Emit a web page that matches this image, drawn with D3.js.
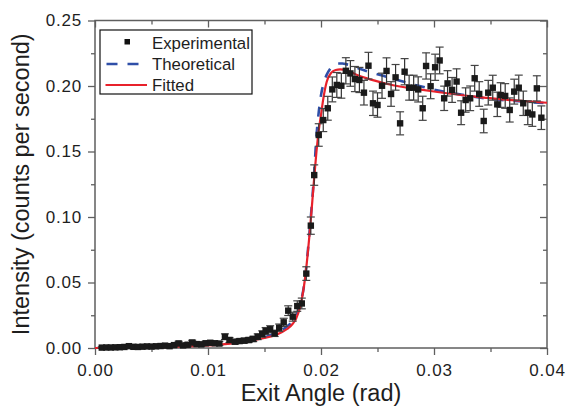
<!DOCTYPE html>
<html>
<head>
<meta charset="utf-8">
<script src="https://cdn.jsdelivr.net/npm/d3@7"></script>
<style>
body { margin: 0; background: #fff; }
svg { display: block; font-family: "Liberation Sans", Arial, Helvetica, sans-serif; }
</style>
</head>
<body>
<svg id="svg0"></svg>
<script>
// experimental points (exit angle, intensity, error)
const expX = [0.0006, 0.0010, 0.0014, 0.0018, 0.0022, 0.0026, 0.0030, 0.0034, 0.0038, 0.0042,
              0.0046, 0.0050, 0.0054, 0.0058, 0.0062, 0.0066, 0.0070, 0.0074, 0.0078, 0.0082,
              0.0086, 0.0090, 0.0094, 0.0098, 0.0102, 0.0106, 0.0110, 0.0115, 0.0119, 0.0124,
              0.0128, 0.0132, 0.0136, 0.0140, 0.0144, 0.0148, 0.0151, 0.0155, 0.0159, 0.0163,
              0.0167, 0.0171, 0.0175, 0.0179, 0.0183, 0.0187, 0.0191, 0.0194, 0.0198, 0.0202,
              0.0206, 0.0210, 0.0214, 0.0218, 0.0222, 0.0226, 0.0230, 0.0234, 0.0238, 0.0242,
              0.0246, 0.0250, 0.0254, 0.0258, 0.0262, 0.0266, 0.0270, 0.0274, 0.0278, 0.0282,
              0.0286, 0.0290, 0.0293, 0.0297, 0.0301, 0.0305, 0.0309, 0.0312, 0.0316, 0.0320,
              0.0324, 0.0328, 0.0332, 0.0336, 0.0340, 0.0344, 0.0348, 0.0352, 0.0356, 0.0359,
              0.0363, 0.0367, 0.0371, 0.0375, 0.0379, 0.0383, 0.0387, 0.0391, 0.0395];
const expY = [0.0003, 0.0004, 0.0004, 0.0005, 0.0006, 0.0008, 0.0014, 0.0009, 0.0008, 0.0010,
              0.0012, 0.0011, 0.0013, 0.0015, 0.0018, 0.0014, 0.0022, 0.0035, 0.0020, 0.0025,
              0.0042, 0.0030, 0.0028, 0.0036, 0.0040, 0.0036, 0.0034, 0.0086, 0.0061, 0.0048,
              0.0053, 0.0056, 0.0061, 0.0069, 0.0086, 0.0107, 0.0130, 0.0143, 0.0112, 0.0155,
              0.0196, 0.0285, 0.0239, 0.0320, 0.0340, 0.0568, 0.0934, 0.1320, 0.1626, 0.1740,
              0.1830, 0.1974, 0.2008, 0.2002, 0.2116, 0.2096, 0.2053, 0.2046, 0.1949, 0.2155,
              0.1868, 0.1855, 0.2002, 0.2115, 0.1939, 0.2066, 0.1715, 0.2109, 0.1987, 0.1987,
              0.1974, 0.1830, 0.2153, 0.1998, 0.2143, 0.2195, 0.1906, 0.2020, 0.1970, 0.2034,
              0.1796, 0.1893, 0.1906, 0.2059, 0.1939, 0.1733, 0.1949, 0.1987, 0.1860, 0.1931,
              0.1924, 0.1817, 0.1957, 0.1987, 0.1868, 0.1796, 0.1783, 0.1982, 0.1758];
const expErr = [0.0006, 0.0006, 0.0006, 0.0007, 0.0007, 0.0008, 0.0010, 0.0008, 0.0008, 0.0009,
                0.0010, 0.0009, 0.0010, 0.0011, 0.0012, 0.0011, 0.0013, 0.0016, 0.0012, 0.0014,
                0.0017, 0.0014, 0.0014, 0.0016, 0.0016, 0.0016, 0.0015, 0.0022, 0.0019, 0.0017,
                0.0018, 0.0018, 0.0019, 0.0020, 0.0022, 0.0024, 0.0026, 0.0027, 0.0024, 0.0028,
                0.0031, 0.0037, 0.0034, 0.0040, 0.0041, 0.0052, 0.0066, 0.0078, 0.0086, 0.0088,
                0.0091, 0.0095, 0.0095, 0.0095, 0.0100, 0.0098, 0.0096, 0.0096, 0.0094, 0.0102,
                0.0093, 0.0093, 0.0096, 0.0100, 0.0094, 0.0098, 0.0088, 0.0100, 0.0095, 0.0095,
                0.0096, 0.0092, 0.0100, 0.0095, 0.0100, 0.0102, 0.0093, 0.0097, 0.0095, 0.0097,
                0.0091, 0.0093, 0.0094, 0.0098, 0.0094, 0.0090, 0.0094, 0.0095, 0.0093, 0.0094,
                0.0094, 0.0092, 0.0095, 0.0096, 0.0093, 0.0091, 0.0091, 0.0096, 0.0090];

// theoretical curve
const theoX = [0.0150, 0.0160, 0.0170, 0.0175, 0.0180, 0.0186, 0.0190, 0.0194, 0.0196, 0.0198,
               0.0200, 0.0202, 0.0205, 0.0208, 0.0211, 0.0215, 0.0219, 0.0223, 0.0230, 0.0240,
               0.0250, 0.0260, 0.0270, 0.0280, 0.0290, 0.0300, 0.0310, 0.0320, 0.0340, 0.0360,
               0.0380, 0.0400];
const theoY = [0.0080, 0.0115, 0.0165, 0.0205, 0.0290, 0.0540, 0.0900, 0.1340, 0.1620, 0.1800,
               0.1930, 0.2010, 0.2085, 0.2130, 0.2158, 0.2172, 0.2172, 0.2165, 0.2145, 0.2115,
               0.2090, 0.2065, 0.2040, 0.2015, 0.1995, 0.1972, 0.1955, 0.1940, 0.1912, 0.1893,
               0.1880, 0.1868];

// fitted curve
const fitX = [0.0000, 0.0020, 0.0040, 0.0060, 0.0080, 0.0100, 0.0110, 0.0120, 0.0130, 0.0140,
              0.0150, 0.0160, 0.0170, 0.0175, 0.0178, 0.0182, 0.0186, 0.0190, 0.0194, 0.0196,
              0.0198, 0.0200, 0.0202, 0.0205, 0.0209, 0.0213, 0.0217, 0.0222, 0.0232, 0.0240,
              0.0250, 0.0260, 0.0280, 0.0290, 0.0300, 0.0320, 0.0346, 0.0360, 0.0380, 0.0400];
const fitY = [0.0000, 0.0001, 0.0003, 0.0007, 0.0012, 0.0020, 0.0026, 0.0034, 0.0044, 0.0058,
              0.0076, 0.0100, 0.0145, 0.0185, 0.0225, 0.0330, 0.0540, 0.0880, 0.1300, 0.1500,
              0.1660, 0.1780, 0.1900, 0.2030, 0.2100, 0.2122, 0.2127, 0.2122, 0.2084, 0.2060,
              0.2035, 0.2013, 0.1982, 0.1970, 0.1958, 0.1935, 0.1910, 0.1898, 0.1884, 0.1872];

const xTicks = [0.00, 0.01, 0.02, 0.03, 0.04];
const xMinor = [0.005, 0.015, 0.025, 0.035];
const yTicks = [0.00, 0.05, 0.10, 0.15, 0.20, 0.25];
const yMinor = [0.025, 0.075, 0.125, 0.175, 0.225];

const legendItems = ['Experimental', 'Theoretical', 'Fitted'];

let totalW = 565, totalH = 409;
let margin = {top: 20.5, right: 18, bottom: 61, left: 95};
let width = totalW - margin.left - margin.right;
let height = totalH - margin.top - margin.bottom;

let svg = d3.select('#svg0').attr('width', totalW).attr('height', totalH);
let g = svg.append('g').attr('transform', 'translate(' + margin.left + ',' + margin.top + ')');

let xScale = d3.scaleLinear().domain([0, 0.04]).range([0, width]);
let yScale = d3.scaleLinear().domain([0, 0.25]).range([height, 0]);

let axisColor = '#5f5f5f';
let textColor = '#1e1e1e';

// axes: bottom + left point outward, top + right point inward
let bottom = g.append('g').attr('transform', 'translate(0,' + height + ')')
    .call(d3.axisBottom(xScale).tickValues(xTicks).tickSize(7).tickPadding(9).tickFormat(d3.format('.2f')));
g.append('g').attr('transform', 'translate(0,' + height + ')')
    .call(d3.axisBottom(xScale).tickValues(xMinor).tickSize(4).tickFormat(''));
let left = g.append('g')
    .call(d3.axisLeft(yScale).tickValues(yTicks).tickSize(7).tickPadding(6).tickFormat(d3.format('.2f')));
g.append('g').call(d3.axisLeft(yScale).tickValues(yMinor).tickSize(4).tickFormat(''));
g.append('g').call(d3.axisBottom(xScale).tickValues(xTicks).tickSize(7).tickFormat(''));
g.append('g').call(d3.axisBottom(xScale).tickValues(xMinor).tickSize(4).tickFormat(''));
g.append('g').attr('transform', 'translate(' + width + ',0)')
    .call(d3.axisLeft(yScale).tickValues(yTicks).tickSize(7).tickFormat(''));
g.append('g').attr('transform', 'translate(' + width + ',0)')
    .call(d3.axisLeft(yScale).tickValues(yMinor).tickSize(4).tickFormat(''));

g.selectAll('.domain').remove();
g.selectAll('.tick line').attr('stroke', axisColor).attr('stroke-width', 1.3);
g.selectAll('.tick text').attr('fill', textColor).style('font-size', '17px').style('letter-spacing', '0.8px');

// frame
g.append('rect').attr('width', width).attr('height', height)
    .attr('fill', 'none').attr('stroke', axisColor).attr('stroke-width', 1.5);

// curves
let theoLine = d3.line().x((d, i) => xScale(theoX[i])).y(d => yScale(d)).curve(d3.curveMonotoneX);
let fitLine = d3.line().x((d, i) => xScale(fitX[i])).y(d => yScale(d)).curve(d3.curveMonotoneX);

g.append('path').datum(theoY)
    .attr('fill', 'none').attr('stroke', '#2f4fa8').attr('stroke-width', 2.6)
    .attr('stroke-dasharray', '10,10').attr('d', theoLine);
g.append('path').datum(fitY)
    .attr('fill', 'none').attr('stroke', '#e8212b').attr('stroke-width', 2.2)
    .attr('d', fitLine);

// error bars + points
let pts = expY.map((y, i) => ({x: expX[i], y: y, e: expErr[i]}));
let eb = g.selectAll('.eb').data(pts).enter().append('g').attr('class', 'eb');
eb.append('line')
    .attr('x1', d => xScale(d.x)).attr('x2', d => xScale(d.x))
    .attr('y1', d => yScale(d.y - d.e)).attr('y2', d => yScale(d.y + d.e))
    .attr('stroke', '#333').attr('stroke-width', 1.2);
eb.append('line')
    .attr('x1', d => xScale(d.x) - 4).attr('x2', d => xScale(d.x) + 4)
    .attr('y1', d => yScale(d.y + d.e)).attr('y2', d => yScale(d.y + d.e))
    .attr('stroke', '#444').attr('stroke-width', 1.2);
eb.append('line')
    .attr('x1', d => xScale(d.x) - 4).attr('x2', d => xScale(d.x) + 4)
    .attr('y1', d => yScale(d.y - d.e)).attr('y2', d => yScale(d.y - d.e))
    .attr('stroke', '#444').attr('stroke-width', 1.2);

g.selectAll('.pt').data(pts).enter().append('rect')
    .attr('class', 'pt')
    .attr('x', d => xScale(d.x) - 3.2).attr('y', d => yScale(d.y) - 3.2)
    .attr('width', 6.4).attr('height', 6.4)
    .attr('fill', '#1a1a1a');

// legend
let lg = svg.append('g').attr('transform', 'translate(100,30)');
lg.append('rect').attr('width', 152).attr('height', 64)
    .attr('fill', '#fff').attr('stroke', '#111').attr('stroke-width', 1.2);
lg.append('rect').attr('x', 24.5).attr('y', 9).attr('width', 5.5).attr('height', 5.5).attr('fill', '#111');
lg.append('line').attr('x1', 6.5).attr('x2', 47).attr('y1', 34).attr('y2', 34)
    .attr('stroke', '#2f4fa8').attr('stroke-width', 2.6).attr('stroke-dasharray', '11,10');
lg.append('line').attr('x1', 5.5).attr('x2', 47).attr('y1', 55).attr('y2', 55)
    .attr('stroke', '#e8212b').attr('stroke-width', 2.2);
lg.selectAll('.ltext').data(legendItems).enter().append('text')
    .attr('class', 'ltext')
    .attr('x', 52).attr('y', (d, i) => 19 + i * 20.8)
    .text(d => d)
    .attr('fill', textColor).style('font-size', '16.8px');

// axis titles
svg.append('text')
    .attr('x', margin.left + width / 2).attr('y', 401)
    .attr('text-anchor', 'middle').attr('fill', textColor)
    .style('font-size', '23.5px')
    .text('Exit Angle (rad)');
svg.append('text')
    .attr('transform', 'translate(28.5,' + (margin.top + height / 2) + ') rotate(-90)')
    .attr('text-anchor', 'middle').attr('fill', textColor)
    .style('font-size', '23.5px')
    .text('Intensity (counts per second)');
</script>
</body>
</html>
